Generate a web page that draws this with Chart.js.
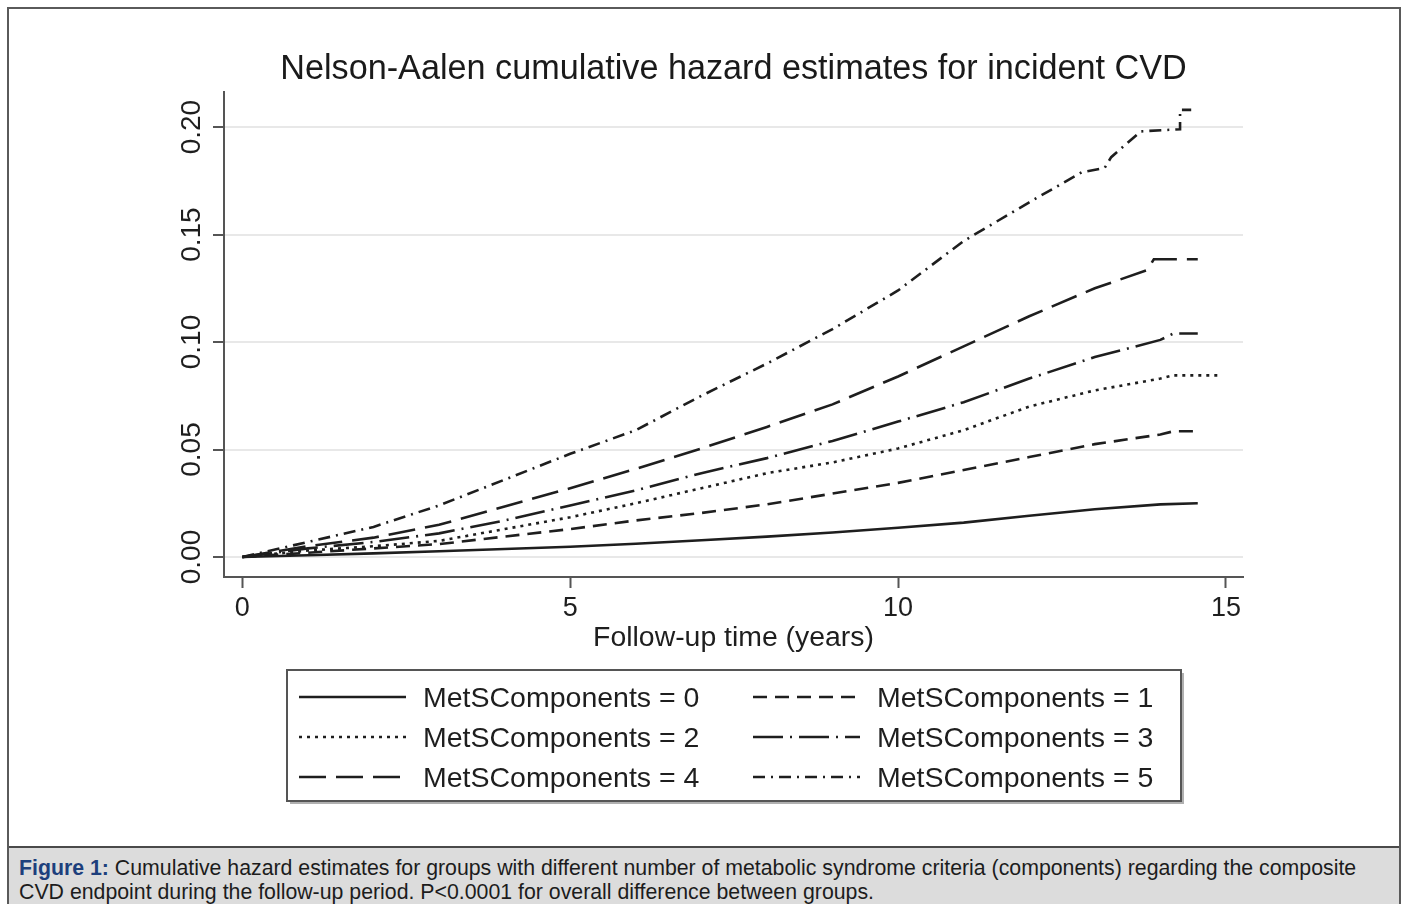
<!DOCTYPE html>
<html>
<head>
<meta charset="utf-8">
<title>Nelson-Aalen cumulative hazard estimates for incident CVD</title>
<script src="https://cdn.jsdelivr.net/npm/chart.js@4.4.1/dist/chart.umd.min.js"></script>
<style>
  html, body { margin: 0; padding: 0; background: #fff; overflow: hidden; width: 1404px; height: 904px; }
  #chartBox { position: absolute; left: 0; top: 0; width: 1404px; height: 846px; }
  #frame { position: absolute; left: 7px; top: 7px; width: 1394px; height: 940px; box-sizing: border-box; border: 2px solid #5a5a5a; pointer-events: none; }
  #caption { position: absolute; left: 9px; top: 846px; width: 1390px; height: 70px; box-sizing: border-box; background: #dcdcdc; border-top: 2px solid #4a4a4a; padding: 8px 0 0 10px; font: 21.3px "Liberation Sans", Arial, sans-serif; line-height: 24px; color: #1c1c1c; white-space: nowrap; }
  #caption b { color: #1d3f7c; }
</style>
</head>
<body>
<div id="chartBox"><canvas id="hazardChart" width="1404" height="846"></canvas></div>
<div id="caption"><b>Figure 1:</b> Cumulative hazard estimates for groups with different number of metabolic syndrome criteria (components) regarding the composite<br>CVD endpoint during the follow-up period. P&lt;0.0001 for overall difference between groups.</div>
<div id="frame"></div>

<script>
// ================= DATA =================
const groupLabels = [
  "MetSComponents = 0",
  "MetSComponents = 1",
  "MetSComponents = 2",
  "MetSComponents = 3",
  "MetSComponents = 4",
  "MetSComponents = 5",
];

// follow-up time (years) and cumulative hazard
const time0 = [0, 1, 2, 3, 4, 5, 6, 7, 8, 9, 10, 11, 12, 13, 14, 14.57];
const hazard0 = [0, 0.0008, 0.0017, 0.0027, 0.0037, 0.0048, 0.0062, 0.0078, 0.0095, 0.0114, 0.0136, 0.016, 0.0192, 0.0222, 0.0245, 0.025];

const time1 = [0, 1, 2, 3, 4, 5, 6, 7, 8, 9, 10, 11, 12, 13, 14, 14.2, 14.53];
const hazard1 = [0, 0.002, 0.004, 0.006, 0.0095, 0.013, 0.017, 0.0205, 0.0245, 0.0295, 0.0345, 0.0405, 0.0465, 0.0525, 0.057, 0.0585, 0.0585];

const time2 = [0, 1, 2, 3, 4, 5, 6, 7, 8, 9, 10, 11, 12, 13, 14, 14.2, 14.9];
const hazard2 = [0, 0.003, 0.005, 0.0075, 0.013, 0.0185, 0.025, 0.032, 0.039, 0.044, 0.0505, 0.059, 0.07, 0.0775, 0.083, 0.0845, 0.0845];

const time3 = [0, 1, 2, 3, 4, 5, 6, 7, 8, 9, 10, 11, 12, 13, 14, 14.2, 14.57];
const hazard3 = [0, 0.004, 0.007, 0.011, 0.017, 0.024, 0.031, 0.039, 0.046, 0.054, 0.063, 0.072, 0.083, 0.093, 0.101, 0.104, 0.104];

const time4 = [0, 1, 2, 3, 4, 5, 6, 7, 8, 9, 10, 11, 12, 13, 13.8, 13.9, 14.57];
const hazard4 = [0, 0.005, 0.009, 0.015, 0.0235, 0.032, 0.041, 0.0505, 0.0605, 0.071, 0.084, 0.098, 0.112, 0.125, 0.1335, 0.1385, 0.1385];

const time5 = [0, 1, 2, 3, 4, 5, 6, 7, 8, 9, 10, 11, 12, 12.8, 13.15, 13.25, 13.7, 14.3, 14.3, 14.47];
const hazard5 = [0, 0.007, 0.014, 0.024, 0.036, 0.048, 0.059, 0.075, 0.09, 0.106, 0.124, 0.147, 0.165, 0.179, 0.181, 0.186, 0.198, 0.199, 0.208, 0.208];

const xTicks = [0, 5, 10, 15];
const yTicks = [0, 0.05, 0.1, 0.15, 0.2];

// ================= STYLE =================
const FONT = '"Liberation Sans", Arial, Helvetica, sans-serif';
const INK = "#1e1e1e";
const AXIS = "#555";

const times = [time0, time1, time2, time3, time4, time5];
const hazards = [hazard0, hazard1, hazard2, hazard3, hazard4, hazard5];
const dashes = [
  [],              // solid
  [14, 8],         // dash
  [3, 5],          // dot
  [30, 7, 2, 7],   // long dash dot
  [27, 10],        // long dash
  [12, 6, 2, 6],   // dash dot
];

Chart.defaults.font.family = FONT;
Chart.defaults.color = INK;

// ================= LEGEND (stata style box) =================
const boxLegend = {
  id: "boxLegend",
  afterDraw(chart) {
    const c = chart.ctx;
    const area = chart.chartArea;
    const boxW = 894, boxH = 131;
    const left = Math.round((area.left + area.right) / 2 - boxW / 2);
    const top = Math.round(area.bottom + 93);

    c.save();
    // faint drop shadow, then the box
    c.strokeStyle = "#b0b0b0";
    c.lineWidth = 2;
    c.beginPath();
    c.moveTo(left + 3, top + boxH + 2);
    c.lineTo(left + boxW + 2, top + boxH + 2);
    c.lineTo(left + boxW + 2, top + 3);
    c.stroke();
    c.strokeStyle = AXIS;
    c.strokeRect(left, top, boxW, boxH);

    c.font = "28.5px " + FONT;
    c.textBaseline = "middle";
    c.fillStyle = INK;

    chart.data.datasets.forEach((ds, i) => {
      const col = i % 2, row = Math.floor(i / 2);
      const x0 = left + (col ? 466 : 12);
      const y = top + 27 + row * 40;
      c.setLineDash(ds.borderDash);
      c.lineWidth = ds.borderWidth;
      c.strokeStyle = ds.borderColor;
      c.beginPath();
      c.moveTo(x0, y);
      c.lineTo(x0 + 107, y);
      c.stroke();
      c.setLineDash([]);
      c.fillText(ds.label, x0 + 124, y + 2);
    });
    c.restore();
  },
};

// ================= CHART =================
new Chart(document.getElementById("hazardChart"), {
  type: "line",
  data: {
    datasets: groupLabels.map((label, i) => ({
      label,
      data: times[i].map((t, k) => ({ x: t, y: hazards[i][k] })),
      borderColor: INK,
      borderWidth: 2.6,
      borderDash: dashes[i],
      borderCapStyle: "butt",
      pointRadius: 0,
      fill: false,
      tension: 0,
    })),
  },
  options: {
    responsive: false,
    animation: false,
    layout: { padding: { top: 49, right: 161, bottom: 179, left: 0 } },
    plugins: {
      legend: { display: false },
      tooltip: { enabled: false },
      title: {
        display: true,
        fullSize: false,
        text: "Nelson-Aalen cumulative hazard estimates for incident CVD",
        color: "#1a1a1a",
        font: { size: 34.2, weight: "normal" },
        padding: { top: 0, bottom: 2 },
      },
    },
    scales: {
      x: {
        type: "linear",
        min: -0.28,
        max: 15.26,
        afterFit: (s) => { s.height = 90; },
        afterBuildTicks: (s) => { s.ticks = xTicks.map((v) => ({ value: v })); },
        ticks: { font: { size: 27 }, color: INK, padding: 4, includeBounds: false },
        grid: { drawOnChartArea: false, tickLength: 11, tickColor: AXIS, tickWidth: 2 },
        border: { display: true, color: AXIS, width: 2 },
        title: {
          display: true,
          text: "Follow-up time (years)",
          color: INK,
          font: { size: 28.4 },
          padding: { top: 0, bottom: 12 },
        },
      },
      y: {
        type: "linear",
        min: -0.0093,
        max: 0.2163,
        afterFit: (s) => { s.width = 224; },
        afterBuildTicks: (s) => { s.ticks = yTicks.map((v) => ({ value: v })); },
        ticks: {
          font: { size: 28 },
          color: INK,
          minRotation: 90,
          maxRotation: 90,
          crossAlign: "center",
          padding: -7,
          includeBounds: false,
          callback: (v) => v.toFixed(2),
        },
        grid: { color: "#e8e8e8", lineWidth: 2, tickLength: 11, tickColor: AXIS, tickWidth: 2 },
        border: { display: true, color: AXIS, width: 2 },
      },
    },
  },
  plugins: [boxLegend],
});
</script>
</body>
</html>
